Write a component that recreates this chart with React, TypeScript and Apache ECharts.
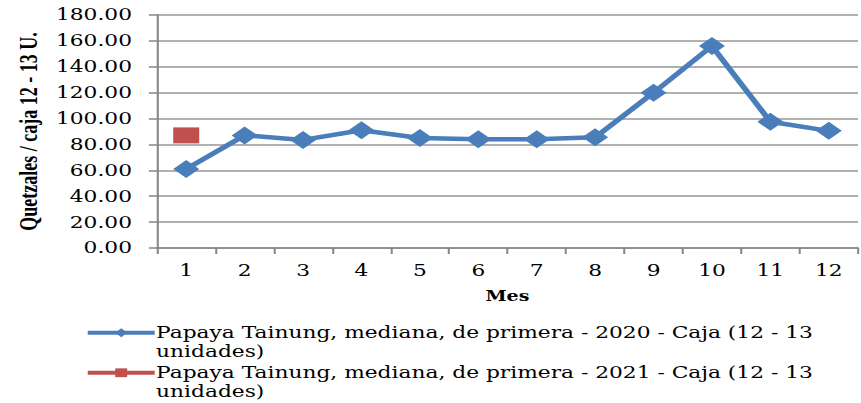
import React, { useEffect, useRef } from "react";
import * as echarts from "echarts";

const months = ["1", "2", "3", "4", "5", "6", "7", "8", "9", "10", "11", "12"];
const name2020 = "Papaya Tainung, mediana, de primera - 2020 - Caja (12 - 13 unidades)";
const name2021 = "Papaya Tainung, mediana, de primera - 2021 - Caja (12 - 13 unidades)";
const values2020 = [61, 87, 83.5, 91, 85, 84, 84, 85.5, 120, 156, 97.5, 90.5];
const values2021 = [87, null, null, null, null, null, null, null, null, null, null, null];
const yTitle = "Quetzales / caja 12 - 13 U.";
const xTitle = "Mes";

const S = 1.36;
const W = 861 / S;
const H = 403;
const serif = "'DejaVu Serif', serif";

export default function App() {
  const ref = useRef<HTMLDivElement>(null);
  useEffect(() => {
    if (!ref.current) return;
    const chart = echarts.init(ref.current, undefined, { renderer: "svg", width: W, height: H });
    const legendText = {
      fontFamily: serif,
      fontSize: 16,
      lineHeight: 18.5,
      color: "#000",
      padding: [0, 0, 0, -4],
    };
    const legendCommon = {
      orient: "vertical",
      left: 85 / S,
      padding: 0,
      itemWidth: 67 / S,
      itemHeight: 11,
      itemGap: 0,
      textStyle: legendText,
      lineStyle: { width: 4 },
      formatter: (n: string) => "\n" + n.replace(" unidades)", "\nunidades)"),
    };
    chart.setOption({
      animation: false,
      backgroundColor: "#fff",
      grid: { left: 157 / S, right: 3 / S, top: 15, bottom: 155 },
      legend: [
        { ...legendCommon, top: 305, data: [name2020] },
        { ...legendCommon, top: 345, data: [name2021] },
      ],
      xAxis: {
        type: "category",
        data: months,
        boundaryGap: true,
        name: xTitle,
        nameLocation: "middle",
        nameGap: 41,
        nameTextStyle: { fontFamily: serif, fontSize: 14, fontWeight: "bold", color: "#000", verticalAlign: "top" },
        axisLine: { lineStyle: { color: "#868686", width: 1.5 } },
        axisTick: { show: true, length: 6, interval: 0, lineStyle: { color: "#868686", width: 1.5 } },
        axisLabel: { fontFamily: serif, fontSize: 16, color: "#000", margin: 15, interval: 0 },
        splitLine: { show: false },
      },
      yAxis: {
        type: "value",
        min: 0,
        max: 180,
        interval: 20,
        name: yTitle,
        nameLocation: "middle",
        nameGap: 83,
        nameRotate: 90,
        nameTextStyle: { fontFamily: "'Liberation Serif', serif", fontSize: 18, fontWeight: "bold", color: "#000" },
        axisLine: { show: true, lineStyle: { color: "#868686", width: 1.5 } },
        axisTick: { show: true, length: 6, lineStyle: { color: "#868686", width: 1.5 } },
        axisLabel: {
          fontFamily: serif,
          fontSize: 16,
          color: "#000",
          margin: 25 / S,
          formatter: (v: number) => v.toFixed(2),
        },
        splitLine: { show: true, lineStyle: { color: "#969696", width: 1.5 } },
      },
      series: [
        {
          name: name2020,
          type: "line",
          data: values2020,
          symbol: "diamond",
          symbolSize: [26 / S, 18],
          lineStyle: { color: "#4a7ebb", width: 4.5 },
          itemStyle: { color: "#4a7ebb" },
        },
        {
          name: name2021,
          type: "line",
          data: values2021,
          symbol: "rect",
          symbolSize: [26 / S, 16],
          lineStyle: { color: "#c0504d", width: 4.5 },
          itemStyle: { color: "#c0504d" },
        },
      ],
    });
    return () => chart.dispose();
  }, []);
  return (
    <div style={{ position: "absolute", left: 0, top: 0, width: 861, height: H, overflow: "hidden", background: "#fff" }}>
      <div
        ref={ref}
        style={{ width: W, height: H, transform: `scaleX(${S})`, transformOrigin: "0 0" }}
      />
    </div>
  );
}
